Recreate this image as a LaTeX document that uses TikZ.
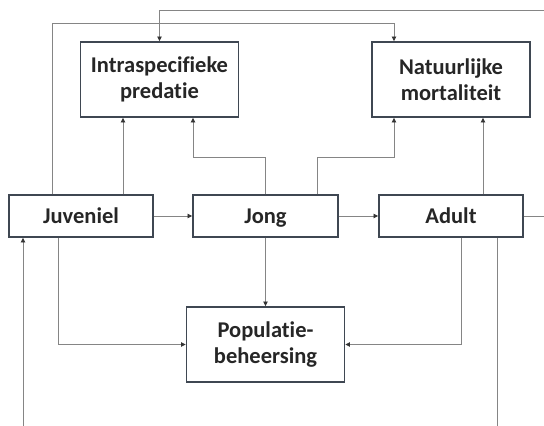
\documentclass[tikz,border=0pt]{standalone}
\usepackage{fontspec}
\setmainfont[Ligatures=NoCommon]{Carlito}
\usetikzlibrary{arrows.meta}
\definecolor{boxline}{HTML}{3F4752}
\definecolor{conn}{HTML}{858585}
\definecolor{txt}{HTML}{262626}
\tikzset{
  box/.style={draw=boxline, line width=1.3pt, fill=white, align=center, text=txt,
    font=\fontsize{22.5}{26}\selectfont\bfseries, inner sep=0pt},
  bigbox/.style={box, minimum width=158pt, minimum height=75pt},
  smallbox/.style={box, minimum width=144pt, minimum height=42pt, text height=17pt, text depth=3pt},
  conn/.style={draw=conn, line width=0.8pt},
  arr/.style={conn, -{Triangle[length=4.5pt,width=4.5pt,color=black!80]}, shorten >=0.3pt},
}
\begin{document}
\begin{tikzpicture}[x=1pt,y=-1pt]
\useasboundingbox (0,0) rectangle (544,426);
\node[bigbox] (intra) at (159.5,79.5) {Intraspecifieke\\predatie};
\node[bigbox] (nat) at (451,79.5) {Natuurlijke\\mortaliteit};
\node[smallbox] (juv) at (81,216) {Juveniel};
\node[smallbox, minimum width=145pt] (jong) at (265.5,216) {Jong};
\node[smallbox] (adult) at (451,216) {Adult};
\node[bigbox] (pop) at (265.5,344.5) {Populatie-\\beheersing};
% helper coordinates
\coordinate (yA) at (0,23);
\coordinate (yB) at (0,157);
\coordinate (topR) at (544,10);
\coordinate (rightR) at (544,216);
\coordinate (botA) at (497,426);
\coordinate (botJ) at (23,426);
\coordinate (jt1) at ([xshift=-29pt]juv.north);
\coordinate (jt2) at ([xshift=42pt]juv.north);
\coordinate (gt2) at ([xshift=51.5pt]jong.north);
\coordinate (at1) at ([xshift=32pt]adult.north);
\coordinate (ib1) at ([xshift=-36.5pt]intra.south);
\coordinate (ib2) at ([xshift=33.5pt]intra.south);
\coordinate (nb1) at ([xshift=-57pt]nat.south);
\coordinate (nb2) at ([xshift=32pt]nat.south);
\coordinate (nt1) at ([xshift=-57pt]nat.north);
\coordinate (jb1) at ([xshift=-23pt]juv.south);
\coordinate (jb2) at ([xshift=-58pt]juv.south);
\coordinate (ab1) at ([xshift=10pt]adult.south);
\coordinate (ab2) at ([xshift=46pt]adult.south);
% connectors
\draw[arr] (jt1) -- (jt1 |- yA) -| (nt1);
\draw[arr] (topR) -| (intra.north);
\draw[conn] (adult.east) -- (rightR);
\draw[arr] (jt2) -- (ib1);
\draw[arr] (jong.north) -- (jong.north |- yB) -| (ib2);
\draw[arr] (gt2) -- (gt2 |- yB) -| (nb1);
\draw[arr] (at1) -- (nb2);
\draw[arr] (juv) -- (jong);
\draw[arr] (jong) -- (adult);
\draw[arr] (jong) -- (pop);
\draw[arr] (jb1) |- (pop.west);
\draw[arr] (ab1) |- (pop.east);
\draw[conn] (ab2) -- (botA);
\draw[arr] (botJ) -- (jb2);
\end{tikzpicture}
\end{document}
